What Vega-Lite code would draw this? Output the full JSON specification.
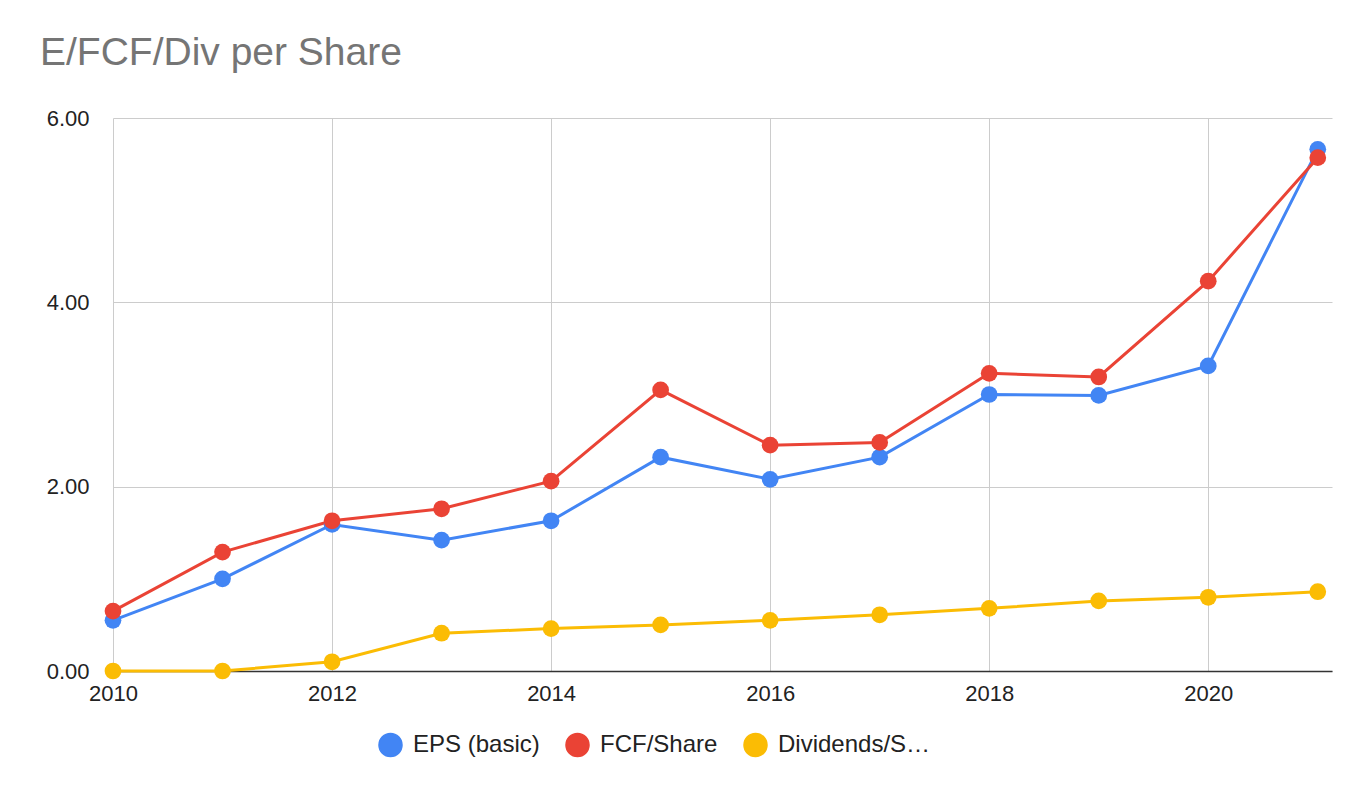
{
"$schema":"https://vega.github.io/schema/vega-lite/v6.json",
"width":1219,"height":553,
"autosize":{"type":"none"},
"padding":{"left":113,"top":118,"right":40,"bottom":127},
"background":"white",
"title":{"text":"E/FCF/Div per Share","anchor":"start","frame":"group","dx":-73,"offset":34,"font":"Liberation Sans","fontSize":39,"fontWeight":"normal","color":"#757575"},
"config":{"font":"Liberation Sans","view":{"stroke":null}},
"data":{"values":[
{"year":2010,"s":"EPS (basic)","v":0.55},{"year":2011,"s":"EPS (basic)","v":1.0},{"year":2012,"s":"EPS (basic)","v":1.59},{"year":2013,"s":"EPS (basic)","v":1.42},{"year":2014,"s":"EPS (basic)","v":1.63},{"year":2015,"s":"EPS (basic)","v":2.32},{"year":2016,"s":"EPS (basic)","v":2.08},{"year":2017,"s":"EPS (basic)","v":2.32},{"year":2018,"s":"EPS (basic)","v":3.0},{"year":2019,"s":"EPS (basic)","v":2.99},{"year":2020,"s":"EPS (basic)","v":3.31},{"year":2021,"s":"EPS (basic)","v":5.66},
{"year":2010,"s":"FCF/Share","v":0.65},{"year":2011,"s":"FCF/Share","v":1.29},{"year":2012,"s":"FCF/Share","v":1.63},{"year":2013,"s":"FCF/Share","v":1.76},{"year":2014,"s":"FCF/Share","v":2.06},{"year":2015,"s":"FCF/Share","v":3.05},{"year":2016,"s":"FCF/Share","v":2.45},{"year":2017,"s":"FCF/Share","v":2.48},{"year":2018,"s":"FCF/Share","v":3.23},{"year":2019,"s":"FCF/Share","v":3.19},{"year":2020,"s":"FCF/Share","v":4.23},{"year":2021,"s":"FCF/Share","v":5.57},
{"year":2010,"s":"Dividends/Share","v":0},{"year":2011,"s":"Dividends/Share","v":0},{"year":2012,"s":"Dividends/Share","v":0.1},{"year":2013,"s":"Dividends/Share","v":0.41},{"year":2014,"s":"Dividends/Share","v":0.46},{"year":2015,"s":"Dividends/Share","v":0.5},{"year":2016,"s":"Dividends/Share","v":0.55},{"year":2017,"s":"Dividends/Share","v":0.61},{"year":2018,"s":"Dividends/Share","v":0.68},{"year":2019,"s":"Dividends/Share","v":0.76},{"year":2020,"s":"Dividends/Share","v":0.8},{"year":2021,"s":"Dividends/Share","v":0.86}
]},
"encoding":{
"x":{"field":"year","type":"quantitative","scale":{"domain":[2010,2021.13],"nice":false,"zero":false},"axis":{"title":null,"values":[2010,2012,2014,2016,2018,2020],"format":"d","labelFontSize":22,"labelColor":"#222","gridColor":"#cccccc","domainColor":"#333","domainWidth":1.5,"tickSize":0,"labelPadding":12,"labelFlush":false}},
"y":{"field":"v","type":"quantitative","scale":{"domain":[0,6],"nice":false},"axis":{"title":null,"values":[0,2,4,6],"format":".2f","labelFontSize":22,"labelColor":"#222","gridColor":"#cccccc","domain":false,"ticks":false,"labelPadding":24}},
"color":{"field":"s","type":"nominal","scale":{"domain":["EPS (basic)","FCF/Share","Dividends/Share"],"range":["#4285F4","#EA4335","#FBBC04"]},"legend":{"title":null,"orient":"none","legendX":265,"legendY":614,"direction":"horizontal","symbolType":"circle","symbolSize":530,"symbolOpacity":1,"labelFontSize":24,"labelColor":"#222","labelOffset":10,"columnPadding":22}}
},
"layer":[
{"mark":{"type":"line","strokeWidth":3}},
{"mark":{"type":"circle","size":280,"opacity":1}}
]
}
